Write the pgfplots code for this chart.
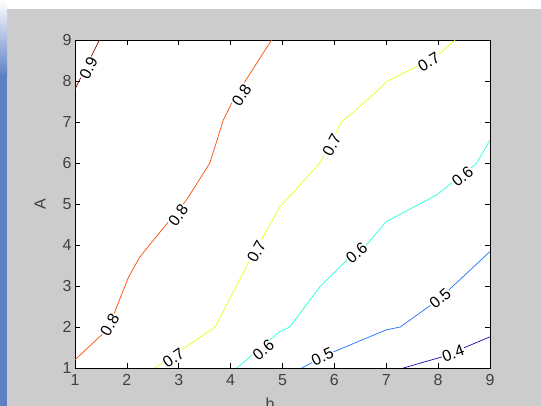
\documentclass[border=0pt]{standalone}
\usepackage{pgfplots}
\pgfplotsset{compat=1.18}
\usepackage{fontspec}
\setmainfont{Liberation Sans}
\definecolor{figbg}{gray}{0.8}
\definecolor{stripblue}{RGB}{93,128,195}
\definecolor{c9}{rgb}{0.5,0,0}
\definecolor{c8}{rgb}{1,0.29,0}
\definecolor{c7}{rgb}{0.92,1,0.08}
\definecolor{c6}{rgb}{0.14,1,0.86}
\definecolor{c5}{rgb}{0.1,0.45,1}
\definecolor{c4}{rgb}{0.05,0.05,0.65}
\begin{document}
\begin{tikzpicture}
\fill[white] (0bp,0bp) rectangle (541bp,406bp);
\fill[figbg] (7bp,0bp) rectangle (541bp,397bp);
\shade[top color=white, bottom color=stripblue] (0bp,330bp) rectangle (7bp,406bp);
\fill[stripblue] (0bp,0bp) rectangle (7bp,330bp);
\begin{axis}[
  at={(75bp,38bp)}, anchor=south west,
  scale only axis, width=415bp, height=328bp,
  xmin=1, xmax=9, ymin=1, ymax=9,
  xtick={1,...,9}, ytick={1,...,9},
  tick align=inside, major tick length=5bp,
  axis background/.style={fill=white},
  axis line style={black, line width=0.6bp},
  every tick/.style={black, line width=0.6bp},
  tick label style={font=\fontsize{16}{19}\selectfont, text=black!75},
  /pgf/number format/assume math mode=true,
  xticklabel style={yshift=-3bp},
  xlabel={b}, ylabel={A},
  label style={font=\fontsize{16}{19}\selectfont, text=black!75},
  xlabel style={at={(axis description cs:0.47,-0.11)}, anchor=center},
  ylabel style={at={(axis description cs:-0.084,0.5)}, anchor=center},
  every axis plot/.append style={line width=0.7bp, mark=none},
  clip=true,
]
\addplot[c9] coordinates {(1,7.8) (1.47,9)};
\addplot[c8] coordinates {(1,1.2) (1.55,1.85) (1.74,2.29) (2.03,3.21) (2.25,3.71) (2.83,4.61) (3.15,5.1) (3.6,6.0) (3.86,7.05) (4.05,7.54) (4.79,9)};
\addplot[c7] coordinates {(2.54,1) (3.7,2) (4.37,3.63) (4.95,4.93) (5.72,6.0) (6.14,7.01) (6.3,7.17) (6.88,7.82) (7.0,7.98) (7.65,8.39) (8.04,8.68) (8.33,9)};
\addplot[c6] coordinates {(4.12,1) (4.95,1.89) (5.14,2.0) (5.72,2.98) (6.24,3.63) (6.59,3.96) (7.0,4.57) (7.97,5.22) (8.74,5.99) (9,6.56)};
\addplot[c5] coordinates {(5.37,1) (5.92,1.36) (7.0,1.93) (7.27,2.0) (7.91,2.58) (8.17,2.86) (9,3.84)};
\addplot[c4] coordinates {(7.33,1) (8.1,1.28) (9,1.76)};
\tikzset{clab/.style={fill=white, inner sep=0.8bp, font=\fontsize{16}{19}\selectfont}}
\node[clab, rotate=64] at (axis cs:1.26,8.31) {0.9};
\node[clab, rotate=60] at (axis cs:1.67,2.05) {0.8};
\node[clab, rotate=54] at (axis cs:2.99,4.73) {0.8};
\node[clab, rotate=57] at (axis cs:4.21,7.66) {0.8};
\node[clab, rotate=34] at (axis cs:2.90,1.24) {0.7};
\node[clab, rotate=61] at (axis cs:4.50,3.84) {0.7};
\node[clab, rotate=62] at (axis cs:5.95,6.44) {0.7};
\node[clab, rotate=31] at (axis cs:7.82,8.47) {0.7};
\node[clab, rotate=40] at (axis cs:4.63,1.44) {0.6};
\node[clab, rotate=40] at (axis cs:6.43,3.80) {0.6};
\node[clab, rotate=39] at (axis cs:8.47,5.67) {0.6};
\node[clab, rotate=25] at (axis cs:5.77,1.28) {0.5};
\node[clab, rotate=40] at (axis cs:8.04,2.70) {0.5};
\node[clab, rotate=20] at (axis cs:8.29,1.36) {0.4};
\end{axis}
\pgfresetboundingbox
\useasboundingbox (0bp,0bp) rectangle (541bp,406bp);
\end{tikzpicture}
\end{document}
